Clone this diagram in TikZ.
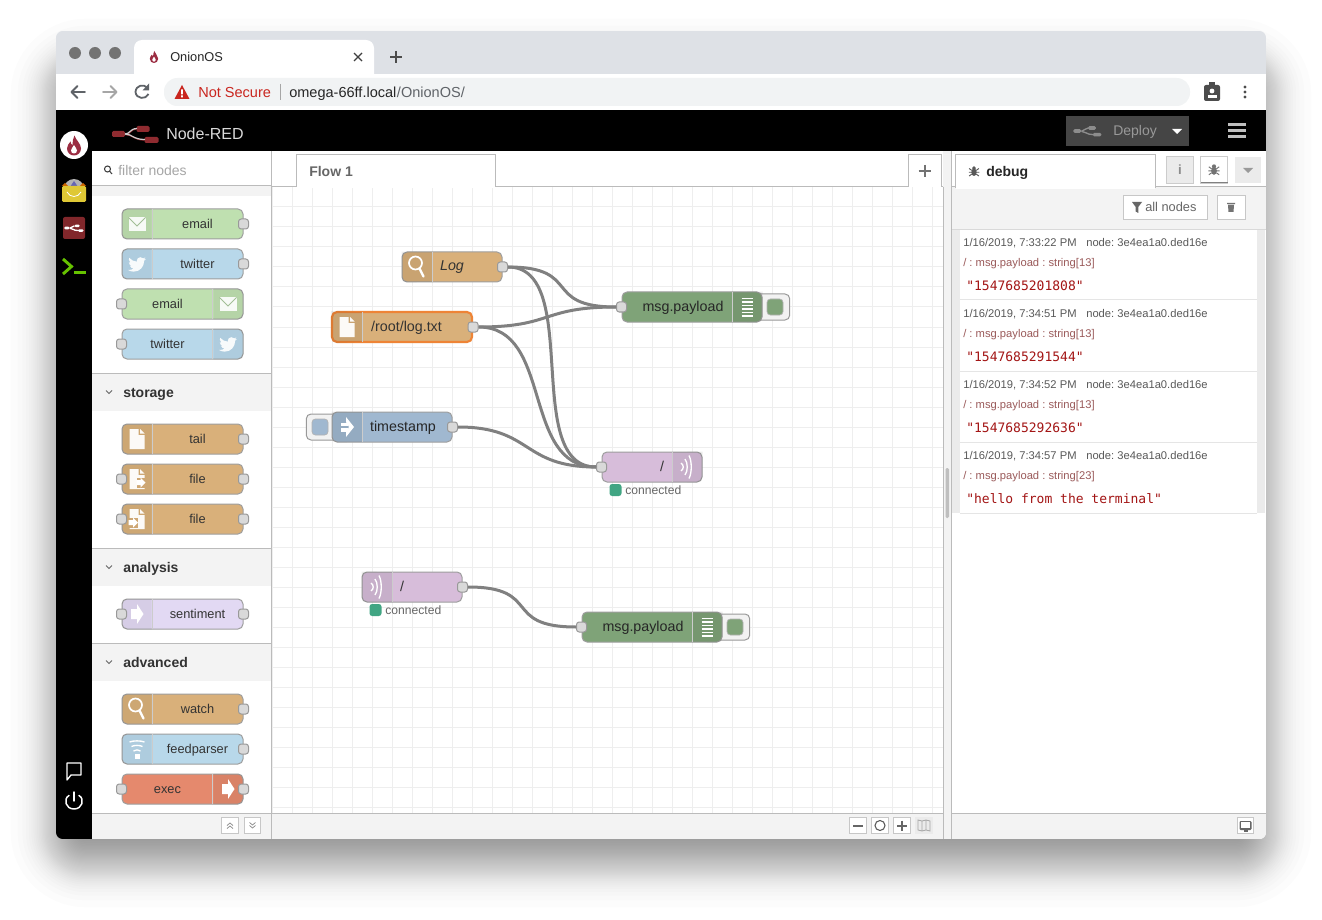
\documentclass[tikz,border=0pt]{standalone}
\usepackage{xcolor}
\usepackage{fontspec}
\setmainfont{Liberation Sans}
\newfontfamily\codefont{DejaVu Sans Mono}
\frenchspacing
\usetikzlibrary{positioning}

\definecolor{chromegray}{HTML}{DEE1E6}
\definecolor{pillgray}{HTML}{F1F3F4}
\definecolor{iconink}{HTML}{5F6368}
\definecolor{warnred}{HTML}{C9261F}
\definecolor{panel}{HTML}{F3F3F3}
\definecolor{rule}{HTML}{BBBBBB}
\definecolor{gridline}{HTML}{EEEEEE}
\definecolor{mailgreen}{HTML}{BFE0B0}
\definecolor{twblue}{HTML}{B8D8EA}
\definecolor{filetan}{HTML}{D9B07A}
\definecolor{sentlilac}{HTML}{E2D9F3}
\definecolor{execred}{HTML}{E5896D}
\definecolor{debuggreen}{HTML}{7FA378}
\definecolor{wsmauve}{HTML}{D7BDDA}
\definecolor{injectblue}{HTML}{A0B8D0}
\definecolor{statusgreen}{HTML}{41A583}
\definecolor{selectorange}{HTML}{EE8436}
\definecolor{flamered}{HTML}{9B2D42}
\definecolor{pillred}{HTML}{8F2B30}
\definecolor{valuered}{HTML}{A31515}
\definecolor{pathred}{HTML}{9A5A5A}

\tikzset{
  envelope icon/.pic={
    \fill[white,opacity=.9] (-8.5,-7) rectangle (8.5,7);
    \draw[mailgreen!85!black,line width=.6pt] (-8.5,-6.5) -- (0,2) -- (8.5,-6.5);
  },
  bird icon/.pic={
    \fill[white,opacity=.9,scale=.85,shift={(-12,-12)}] (22.46,6) .. controls (21.69,6.35) and (20.86,6.58) .. (20,6.69)
      .. controls (20.88,6.16) and (21.56,5.32) .. (21.88,4.31) .. controls (21.05,4.81) and (20.13,5.16) .. (19.16,5.36)
      .. controls (18.37,4.5) and (17.26,4) .. (16,4) .. controls (13.65,4) and (11.73,5.92) .. (11.73,8.29)
      .. controls (11.73,8.63) and (11.77,8.96) .. (11.84,9.27) .. controls (8.28,9.09) and (5.11,7.38) .. (3,4.79)
      .. controls (2.63,5.42) and (2.42,6.16) .. (2.42,6.94) .. controls (2.42,8.43) and (3.17,9.75) .. (4.33,10.5)
      .. controls (3.62,10.5) and (2.96,10.3) .. (2.38,10) .. controls (2.38,12.11) and (3.86,13.85) .. (5.82,14.24)
      .. controls (5.46,14.34) and (4.42,14.39) .. (3.89,14.31) .. controls (4.43,16) and (6,17.26) .. (7.89,17.29)
      .. controls (6.43,18.45) and (4.58,19.13) .. (1.54,19.07) .. controls (3.44,20.29) and (5.7,21) .. (8.12,21)
      .. controls (16,21) and (20.33,14.46) .. (20.33,8.79) .. controls (20.33,8.6) and (20.33,8.42) .. (20.32,8.23)
      .. controls (21.16,7.63) and (21.88,6.87) .. (22.46,6) -- cycle;
  },
  file icon/.pic={
    \fill[white,opacity=.95] (-7.5,-10) -- (1.5,-10) -- (1.5,-4) -- (7.5,-4) -- (7.5,10) -- (-7.5,10) -- cycle;
    \fill[white,opacity=.95] (3,-10) -- (7.5,-5.5) -- (3,-5.5) -- cycle;
  },
  fileout icon/.pic={
    \pic {file icon};
    \fill[filetan!95!black] (-.5,-1.5) rectangle (9,8.5);
    \fill[white] (-.5,1) -- (3.5,1) -- (3.5,-1.5) -- (8.5,3.5) -- (3.5,8.5) -- (3.5,6) -- (-.5,6) -- cycle;
  },
  filein icon/.pic={
    \pic {file icon};
    \fill[filetan!95!black] (-8.5,-1.5) rectangle (1,8.5);
    \fill[white] (-8.5,1) -- (-4,1) -- (-4,-1.5) -- (1,3.5) -- (-4,8.5) -- (-4,6) -- (-8.5,6) -- cycle;
  },
  lens icon/.pic={
    \draw[white,line width=1.3pt] (-1.5,-4) circle[radius=6.5];
    \draw[white,line width=1.7pt,line cap=round] (2.5,1.5) -- (6.5,9.5);
  },
  feed icon/.pic={
    \fill[white] (-2.5,5) rectangle (2.5,10);
    \foreach \yy/\ww in {2/3.5,-2.5/5.5,-7/7.5}
      \draw[white,line width=1pt] (-\ww,\yy) .. controls (-\ww/2,\yy-1.5) and (\ww/2,\yy-1.5) .. (\ww,\yy);
  },
  flow arrow icon/.pic={
    \fill[white] (-6,-5) -- (0,-5) -- (0,-10) -- (6.5,0) -- (0,10) -- (0,5) -- (-6,5) -- cycle;
  },
  inject icon/.pic={
    \fill[white] (-1,-10) -- (7,0) -- (-1,10) -- (-1,5) -- (2,0) -- (-1,-5) -- cycle;
    \fill[white] (-6.5,-4.5) rectangle (0.5,-1.2);
    \fill[white] (-6.5,1.2) rectangle (0.5,4.5);
  },
  list icon/.pic={
    \foreach \yy in {-8.5,-5,-1.5,2,5.5,9}
      \draw[white,line width=.8pt] (-5.5,\yy) -- (5.5,\yy);
  },
  socket icon/.pic={
    \foreach \xx/\hh in {-3/4,1/8,5/11.5}
      \draw[white,line width=1pt] (\xx-3,-\hh) .. controls (\xx,-\hh/2) and (\xx,\hh/2) .. (\xx-3,\hh);
  },
  bug icon/.pic={
    \fill (0,-4.5) circle[radius=2.6];
    \fill (0,1) ellipse[x radius=3.6,y radius=5];
    \draw[line width=.7pt] (-6.5,-4) -- (-3,-1.5) (6.5,-4) -- (3,-1.5) (-7,1) -- (7,1) (-6.5,6) -- (-3,3.5) (6.5,6) -- (3,3.5);
  },
  flame icon/.pic={
    \fill[flamered] (0.5,-10) .. controls (2,-5) and (7,-2) .. (7,3) .. controls (7,7.5) and (3.5,10) .. (0,10)
      .. controls (-3.5,10) and (-7,7.5) .. (-7,3) .. controls (-7,0) and (-5,-2) .. (-3.5,-4)
      .. controls (-3.5,-2) and (-2.5,-1) .. (-1.5,-.5) .. controls (-2,-4) and (-.5,-7) .. (0.5,-10) -- cycle;
    \fill[white] (0,-.5) .. controls (1,2) and (3,3) .. (3,5) .. controls (3,7) and (1.5,8) .. (0,8)
      .. controls (-1.5,8) and (-3,7) .. (-3,5) .. controls (-3,3) and (-1,2) .. (0,-.5) -- cycle;
  },
  flow logo/.pic={
    \draw[#1,line width=1pt] (-10,0.5) .. controls (-5,0.5) and (-5,-5) .. (1,-5);
    \draw[#1,line width=1pt] (-10,0.5) .. controls (-3,0.5) and (-2,6) .. (9,6);
    \fill[#1,rounded corners=1pt] (-23.5,-3) rectangle (-10.5,3);
    \fill[#1,rounded corners=1pt] (1,-8) rectangle (14,-2);
    \fill[#1,rounded corners=1pt] (9,3) rectangle (23,9);
  },
}

\begin{document}
\begin{tikzpicture}[x=.75pt,y=-.75pt,
    txt/.style={inner sep=0,anchor=base west},
    flow/.style={draw=black!38,rounded corners=3.75pt,minimum height=22.5pt,inner sep=0,line width=.75pt},
    lab/.style={inner sep=0,text height=8.2pt,text depth=1.2pt,text=black!80,font=\fontsize{9.6}{11}\selectfont},
    biglab/.style={inner sep=0,text height=8pt,text depth=2pt,text=black!80,font=\fontsize{10.7}{12}\selectfont},
    port/.style={draw=black!40,fill=black!15,rounded corners=2pt,minimum size=7.5pt,inner sep=0,line width=.75pt},
    flag/.style={draw=black!40,fill=black!5,rounded corners=3.5pt,minimum height=19.5pt,inner sep=0,line width=.75pt},
    flagin/.style={draw=black!30,rounded corners=2.5pt,minimum size=12pt,inner sep=0,line width=.5pt},
    status/.style={fill=statusgreen,rounded corners=2pt,minimum size=9pt,inner sep=0},
    wire/.style={draw=black!50,line width=2.25pt},
    tool/.style={draw=black!22,fill=white,minimum width=12.5pt,minimum height=12.5pt,inner sep=0,line width=.75pt},
    sect/.style={txt,font=\fontsize{10.5}{12}\selectfont\bfseries,text=black!80},
    info/.style={txt,font=\fontsize{8.4}{10}\selectfont,text=black!65},
    msgline/.style={txt,font=\fontsize{8.4}{10}\selectfont,text=pathred},
    value/.style={txt,font=\fontsize{9.75}{12}\codefont,text=valuered}]

  \useasboundingbox (0,0) rectangle (1322,920);

  % soft shadow round the window
  \foreach \u in {.01,.03,...,.99}{
    \pgfmathsetmacro{\d}{13*ln(\u/(1-\u))}
    \pgfmathsetmacro{\r}{max(\d+30,1)*.75}
    \fill[black,fill opacity=.013,rounded corners=\r pt] (56-\d,64-\d) rectangle (1266+\d,862+\d);
  }

  \begin{scope}
    \clip[rounded corners=5pt] (56,31) rectangle (1266,839);
    \fill[white] (56,31) rectangle (1266,839);

    % browser chrome
    \fill[chromegray] (56,31) rectangle (1266,74);
    \fill[white,rounded corners=6pt] (134,40) rectangle (374,90);
    \fill[white] (56,74) rectangle (1266,110);
    \fill[pillgray,rounded corners=10pt] (164,78) rectangle (1190,106);
    \foreach \x in {75,95,115}
      \fill[black!55] (\x,53) circle[radius=6];
    \pic[scale=.6] at (154,57) {flame icon};
    \node[txt,font=\fontsize{9.6}{12}\selectfont,text=black!85] (tabtitle) at (170,62) {OnionOS};
    \draw[black!75,line width=1pt] (354,53) -- (362,61) (362,53) -- (354,61);
    \draw[black!70,line width=1.1pt] (396,51) -- (396,63) (390,57) -- (402,57);
    \draw[iconink,line width=1.35pt,line cap=round,line join=round] (85,92) -- (71.5,92) (77.5,86) -- (71.5,92) -- (77.5,98);
    \draw[black!35,line width=1.35pt,line cap=round,line join=round] (103,92) -- (116.5,92) (110.5,86) -- (116.5,92) -- (110.5,98);
    \draw[iconink,line width=1.35pt] (147.5,88) .. controls (144,83.5) and (136,85) .. (135.5,92) .. controls (136,99) and (146,100) .. (148.5,94);
    \fill[iconink] (149,83.5) -- (149,90.5) -- (142.5,90.5) -- cycle;
    \fill[warnred] (182,85) -- (189.5,99) -- (174.5,99) -- cycle;
    \fill[white] (181.2,89.5) rectangle (182.8,94.5) (181.2,95.5) rectangle (182.8,97.3);
    \node[txt,font=\fontsize{10.9}{12}\selectfont,text=warnred] (notsecure) at (198,97.5) {Not Secure};
    \draw[black!35,line width=.75pt] (280,84) -- (280,100);
    \node[txt,font=\fontsize{10.9}{12}\selectfont,text=black!85] (urlhost) at (289,97.5) {omega-66ff.local};
    \node[txt,font=\fontsize{10.9}{12}\selectfont,text=iconink] (urlpath) at (urlhost.base east) {/OnionOS/};
    \fill[black!70,rounded corners=1.5pt] (1204,85) rectangle (1220,101);
    \fill[black!70] (1209,82) rectangle (1215,87);
    \fill[white] (1212,91) circle[radius=2.4];
    \fill[white] (1207.5,98.5) rectangle (1216.5,95);
    \foreach \y in {87,92,97}
      \fill[black!70] (1245,\y) circle[radius=1.6];

    % black bars
    \fill[black] (56,110) rectangle (1266,151);
    \fill[black] (56,110) rectangle (92,839);
    \fill[white] (74,145) circle[radius=14];
    \pic at (74,145.5) {flame icon};
    \fill[black!30] (74,189) circle[radius=10];
    \fill[blue!50!black!60] (74,181) -- (78,187) -- (70,187) -- cycle;
    \fill[yellow!80!orange!85!black!90,rounded corners=1pt] (62,186) rectangle (86,202);
    \fill[orange!80!black] (62,186) -- (65,183) -- (68,186) -- cycle (80,186) -- (83,183) -- (86,186) -- cycle;
    \draw[white,line width=.6pt] (67,192) .. controls (70,198) and (78,198) .. (81,192);
    \fill[pillred!90!black,rounded corners=1.5pt] (63,217) rectangle (85,239);
    \pic[scale=.42] at (74,228) {flow logo=white};
    \draw[green!60!black!60!yellow,line width=2.2pt,line join=miter] (63,259) -- (71.5,266.5) -- (63,274);
    \draw[green!60!black!60!yellow,line width=2.2pt] (74,272.5) -- (86,272.5);
    \draw[white,line width=1pt,line join=round] (67,763) -- (81,763) -- (81,775) -- (71,775) -- (67,780) -- cycle;
    \draw[white,line width=1.1pt,line cap=round] (69,795.5) .. controls (63,799) and (65.5,809) .. (74,809) .. controls (82.5,809) and (85,799) .. (79,795.5);
    \draw[white,line width=1.1pt,line cap=round] (74,792) -- (74,801);

    \pic at (135.5,134) {flow logo=pillred};
    \draw[black!20,line width=.9pt] (125,134) .. controls (130,134) and (130,128.5) .. (137,128.5);
    \draw[black!20,line width=.9pt] (125,134) .. controls (132,134) and (133,139.5) .. (145,139.5);
    \node[txt,font=\fontsize{12}{14}\selectfont,text=black!15] (brand) at (166,140) {Node-RED};
    \fill[black!73] (1066,116) rectangle (1189,146);
    \pic[scale=.6] at (1087.5,131) {flow logo=black!45};
    \node[txt,font=\fontsize{10.5}{12}\selectfont,text=black!40] (deploy) at (1113,136) {Deploy};
    \fill[white] (1172,129) -- (1182,129) -- (1177,134) -- cycle;
    \foreach \y in {125,131,137}
      \draw[black!25,line width=2.25pt] (1228,\y) -- (1246,\y);

    % palette column
    \fill[panel] (92,186) rectangle (271,196);
    \foreach \y in {373,548,643}
      \fill[panel] (92,\y) rectangle (271,\y+38);
    \foreach \y in {373,548,643}
      \draw[rule,line width=.75pt] (92,\y) -- (271,\y);
    \draw[rule,line width=.75pt] (92,186) -- (271,186);
    \fill[panel] (92,813) rectangle (271,839);
    \draw[rule,line width=.75pt] (92,813) -- (271,813);
    \draw[black!75,line width=.8pt] (108,170) +(-.5,-1) circle[radius=3] (109.5,171) -- (112,174);
    \node[txt,font=\fontsize{10.5}{12}\selectfont,text=black!35] (filter) at (118,176) {filter nodes};
    \foreach \nm/\txt/\yy in {storage/storage/392,analysis/analysis/567,advanced/advanced/662}{
      \draw[black!60,line width=.6pt] (106,\yy-1.5) -- (109,\yy+1.5) -- (112,\yy-1.5);
      \node[sect] (sec\nm) at (123,\yy+5) {\txt};
    }

    % workspace
    \foreach \x in {272,292,...,942}
      \draw[gridline,line width=.75pt] (\x,187) -- (\x,813);
    \foreach \y in {207,227,...,812}
      \draw[gridline,line width=.75pt] (272,\y) -- (943,\y);
    \draw[rule,line width=.75pt] (272,187) -- (943,187);
    \fill[white,draw=rule,line width=.75pt] (296,187) -- (296,155) -- (495,155) -- (495,187);
    \fill[white] (296.5,186) rectangle (494.5,188);
    \node[txt,font=\fontsize{10.5}{12}\selectfont\bfseries,text=black!60] (flowtab) at (309,177) {Flow 1};
    \fill[white,draw=rule,line width=.75pt] (908,187) -- (908,155) -- (941,155) -- (941,187);
    \draw[black!55,line width=1.5pt] (924.5,165) -- (924.5,177) (918.5,171) -- (930.5,171);
    \fill[panel] (272,813) rectangle (943,839);
    \draw[rule,line width=.75pt] (272,813) -- (943,813);
    \draw[rule,line width=.75pt] (271.5,151) -- (271.5,839);

    % sidebar
    \fill[panel] (943,151) rectangle (951,839);
    \draw[rule,line width=.75pt] (943.5,187) -- (943.5,839) (951.5,151) -- (951.5,839);
    \fill[black!25,rounded corners=1pt] (945.5,468) rectangle (949,518);
    \fill[panel] (952,187) rectangle (1266,229);
    \draw[rule,line width=.75pt] (952,187) -- (1266,187);
    \draw[black!15,line width=.75pt] (952,229.5) -- (1266,229.5);
    \fill[white,draw=rule,line width=.75pt] (955,188) -- (955,155) -- (1155,155) -- (1155,188);
    \fill[white] (955.5,186) rectangle (1154.5,189);
    \begin{scope}[black!65]
      \pic[scale=.75] at (974,171.5) {bug icon};
    \end{scope}
    \node[txt,font=\fontsize{10.5}{12}\selectfont\bfseries,text=black!85] (debugtab) at (986,177) {debug};
    \node[fill=black!8,draw=black!20,minimum width=20pt,minimum height=20.5pt,inner sep=0] (infobtn) at (1180,170) {};
    \node[font=\fontsize{10}{10}\selectfont\bfseries,text=black!45] (infoi) at (infobtn.center) {i};
    \node[fill=white,draw=black!20,minimum width=20pt,minimum height=20.5pt,inner sep=0] (bugbtn) at (1214,170) {};
    \draw[black!50,line width=.75pt] (1200.5,183) -- (1227.5,183);
    \begin{scope}[black!55]
      \pic[scale=.8] at (1214,170) {bug icon};
    \end{scope}
    \fill[black!8] (1235,157) rectangle (1261,183);
    \fill[black!40] (1243,168) -- (1253,168) -- (1248,173) -- cycle;
    \node[fill=white,draw=black!22,minimum width=63pt,minimum height=18pt,inner sep=0] (filterbtn) at (1165,207) {};
    \fill[black!60] (1132,202) -- (1142,202) -- (1138.3,207) -- (1138.3,213) -- (1135.7,211.5) -- (1135.7,207) -- cycle;
    \node[txt,font=\fontsize{9.6}{11}\selectfont,text=black!60] (allnodes) at (1145,212) {all nodes};
    \node[fill=white,draw=black!22,minimum width=21pt,minimum height=18pt,inner sep=0] (clearbtn) at (1231,207) {};
    \fill[black!55] (1227,203) rectangle (1235,204.2) (1228,205) -- (1234,205) -- (1233.5,212) -- (1228.5,212) -- cycle;
    \fill[black!8] (952,230) rectangle (960,513);
    \fill[black!8] (1257,230) rectangle (1265,513);
    \foreach \m/\ty/\v/\yy [count=\i] in {33:22/13/1547685201808/242,34:51/13/1547685291544/313,34:52/13/1547685292636/384,34:57/23/hello from the terminal/455}{
      \node[info] (stamp\i) at (963,\yy+4.5) {1/16/2019, 7:\m\ PM};
      \node[info] (origin\i) at (1086,\yy+4.5) {node: 3e4ea1a0.ded16e};
      \node[msgline] (msgpath\i) at (963,\yy+24.5) {/ : msg.payload : string[\ty]};
      \node[value] (payload\i) at (966,\yy+48.5) {"\v"};
      \draw[black!10,line width=.75pt] (960,\yy+58) -- (1257,\yy+58);
    }
    \fill[panel] (952,813) rectangle (1266,839);
    \draw[rule,line width=.75pt] (952,813) -- (1266,813);

    % buttons along the bottom
    \foreach \nm/\x in {up/230,down/252.5,minus/858,reset/880,plus/902,map/924,screen/1245.5}
      \node[tool] (btn\nm) at (\x,825.5) {};
    \draw[black!45,line width=.55pt] (227,825.5) -- (230,823) -- (233,825.5) (227,828.5) -- (230,826) -- (233,828.5);
    \draw[black!45,line width=.55pt] (249.5,822.5) -- (252.5,825) -- (255.5,822.5) (249.5,825.5) -- (252.5,828) -- (255.5,825.5);
    \draw[black!60,line width=1.5pt] (853,825.5) -- (863,825.5);
    \draw[black!65,line width=.8pt] (880,825.5) circle[radius=5];
    \draw[black!60,line width=1.5pt] (897,825.5) -- (907,825.5) (902,820.5) -- (902,830.5);
    \fill[black!8] (btnmap.south west) rectangle (btnmap.north east);
    \draw[black!35,line width=.6pt] (918,820) -- (922,821) -- (926,820) -- (930,821) -- (930,831) -- (926,830) -- (922,831) -- (918,830) -- cycle (922,821) -- (922,831) (926,820) -- (926,830);
    \fill[black!60,rounded corners=.8pt] (1239.5,821) rectangle (1251.5,830);
    \fill[white] (1240.7,822.2) rectangle (1250.3,827.5);
    \fill[black!60] (1243.5,830) rectangle (1247.5,832);
  \end{scope}

  % palette nodes with their icon on the left
  \foreach \nm/\txt/\yy/\col/\ic in {mailin/email/224/mailgreen/envelope icon,twin/twitter/264/twblue/bird icon,tail/tail/439/filetan/file icon,watch/watch/709/filetan/lens icon,feed/feedparser/749/twblue/feed icon}{
    \node[flow,fill=\col,minimum width=90.75pt,label={[lab,xshift=11.25pt]center:\txt}] (pal\nm) at (182.5,\yy) {};
    \fill[black,fill opacity=.05] (pal\nm.north west) ++(30,0) [rounded corners=3.75pt] -- (pal\nm.north west) -- (pal\nm.south west) [sharp corners] -- ++(30,0) -- cycle;
    \draw[black!20,line width=.5pt] (152,\yy-15) -- (152,\yy+15);
    \pic at (137,\yy) {\ic};
    \node[port] (pal\nm out) at (pal\nm.east) {};
  }
  % with an input port too
  \foreach \nm/\txt/\yy/\col/\ic in {fileb/file/479/filetan/fileout icon,filec/file/519/filetan/filein icon,sent/sentiment/614/sentlilac/flow arrow icon}{
    \node[flow,fill=\col,minimum width=90.75pt,label={[lab,xshift=11.25pt]center:\txt}] (pal\nm) at (182.5,\yy) {};
    \fill[black,fill opacity=.05] (pal\nm.north west) ++(30,0) [rounded corners=3.75pt] -- (pal\nm.north west) -- (pal\nm.south west) [sharp corners] -- ++(30,0) -- cycle;
    \draw[black!20,line width=.5pt] (152,\yy-15) -- (152,\yy+15);
    \pic at (137,\yy) {\ic};
    \node[port] (pal\nm in) at (pal\nm.west) {};
    \node[port] (pal\nm out) at (pal\nm.east) {};
  }
  % icon on the right
  \foreach \nm/\txt/\yy/\col/\ic in {mailout/email/304/mailgreen/envelope icon,twout/twitter/344/twblue/bird icon,exec/exec/789/execred/flow arrow icon}{
    \node[flow,fill=\col,minimum width=90.75pt,label={[lab,xshift=-11.25pt]center:\txt}] (pal\nm) at (182.5,\yy) {};
    \fill[black,fill opacity=.05] (pal\nm.north east) ++(-30,0) [rounded corners=3.75pt] -- (pal\nm.north east) -- (pal\nm.south east) [sharp corners] -- ++(-30,0) -- cycle;
    \draw[black!20,line width=.5pt] (212,\yy-15) -- (212,\yy+15);
    \pic at (228,\yy) {\ic};
    \node[port] (pal\nm in) at (pal\nm.west) {};
  }
  \node[port] (palexec out) at (palexec.east) {};

  % flow: buttons sit behind the node bodies
  \node[flag,minimum width=25pt] (dbgabtn) at (773,307) {};
  \node[flagin,fill=debuggreen] (dbgafill) at (775,307) {};
  \node[flag,minimum width=25pt] (dbgbbtn) at (733,627) {};
  \node[flagin,fill=debuggreen] (dbgbfill) at (735,627) {};
  \node[flag,minimum width=25pt] (tsbtn) at (323,427) {};
  \node[flagin,fill=injectblue] (tsfill) at (320,427) {};

  \node[flow,fill=filetan,minimum width=75pt,label={[biglab,font=\fontsize{10.7}{12}\itshape]center:Log}] (logw) at (452,267) {};
  \node[flow,fill=filetan,draw=selectorange,line width=1.6pt,minimum width=105pt,label={[biglab,xshift=3.4pt]center:/root/log.txt}] (tailf) at (402,327) {};
  \node[flow,fill=debuggreen,minimum width=105pt,label={[biglab,text=black!85,xshift=-6.75pt]center:msg.payload}] (dbga) at (692,307) {};
  \node[flow,fill=injectblue,minimum width=90pt,label={[biglab,text=black!85,xshift=8.25pt]center:timestamp}] (stamp) at (392,427) {};
  \node[flow,fill=wsmauve,minimum width=75pt,label={[biglab,xshift=7.5pt]center:/}] (wsout) at (652,467) {};
  \node[flow,fill=wsmauve,minimum width=75pt,label={[biglab,xshift=-7.5pt]center:/}] (wsin) at (412,587) {};
  \node[flow,fill=debuggreen,minimum width=105pt,label={[biglab,text=black!85,xshift=-6.75pt]center:msg.payload}] (dbgb) at (652,627) {};

  \foreach \nm/\x/\y in {logw/432/267,tailf/362/327,stamp/362/427,wsin/392/587}{
    \fill[black,fill opacity=.07,rounded corners=3.75pt] (\nm.north west) -- (\nm.south west) [sharp corners] -- (\x,\y+15) -- (\x,\y-15) -- (\nm.north west);
    \draw[black!20,line width=.5pt] (\x,\y-15) -- (\x,\y+15);
  }
  \foreach \nm/\x/\y in {dbga/732/307,wsout/672/467,dbgb/692/627}{
    \fill[black,fill opacity=.07,rounded corners=3.75pt] (\nm.north east) -- (\nm.south east) [sharp corners] -- (\x,\y+15) -- (\x,\y-15) -- (\nm.north east);
    \draw[black!20,line width=.5pt] (\x,\y-15) -- (\x,\y+15);
  }
  \pic at (417,267) {lens icon};
  \pic at (347,327) {file icon};
  \pic at (347,427) {inject icon};
  \pic at (747,307) {list icon};
  \pic at (707,627) {list icon};
  \pic at (687,467) {socket icon};
  \pic at (377,587) {socket icon};

  \node[port] (logwout) at (logw.east) {};
  \node[port] (tailfout) at (tailf.east) {};
  \node[port] (stampout) at (stamp.east) {};
  \node[port] (wsoutin) at (wsout.west) {};
  \node[port] (wsinout) at (wsin.east) {};
  \node[port] (dbgain) at (dbga.west) {};
  \node[port] (dbgbin) at (dbgb.west) {};

  \draw[wire] (logwout.east) .. controls +(75,0) and +(-75,0) .. (dbgain.west);
  \draw[wire] (logwout.east) .. controls +(75,0) and +(-75,0) .. (wsoutin.west);
  \draw[wire] (tailfout.east) .. controls +(75,0) and +(-75,0) .. (dbgain.west);
  \draw[wire] (tailfout.east) .. controls +(75,0) and +(-75,0) .. (wsoutin.west);
  \draw[wire] (stampout.east) .. controls +(75,0) and +(-75,0) .. (wsoutin.west);
  \draw[wire] (wsinout.east) .. controls +(75,0) and +(-75,0) .. (dbgbin.west);

  \node[status] (wsoutled) at (615.5,490) {};
  \node[txt,font=\fontsize{9.1}{11}\selectfont,text=black!60] (wsouttext) at (625,494) {connected};
  \node[status] (wsinled) at (375.5,610) {};
  \node[txt,font=\fontsize{9.1}{11}\selectfont,text=black!60] (wsintext) at (385,614) {connected};
\end{tikzpicture}
\end{document}
